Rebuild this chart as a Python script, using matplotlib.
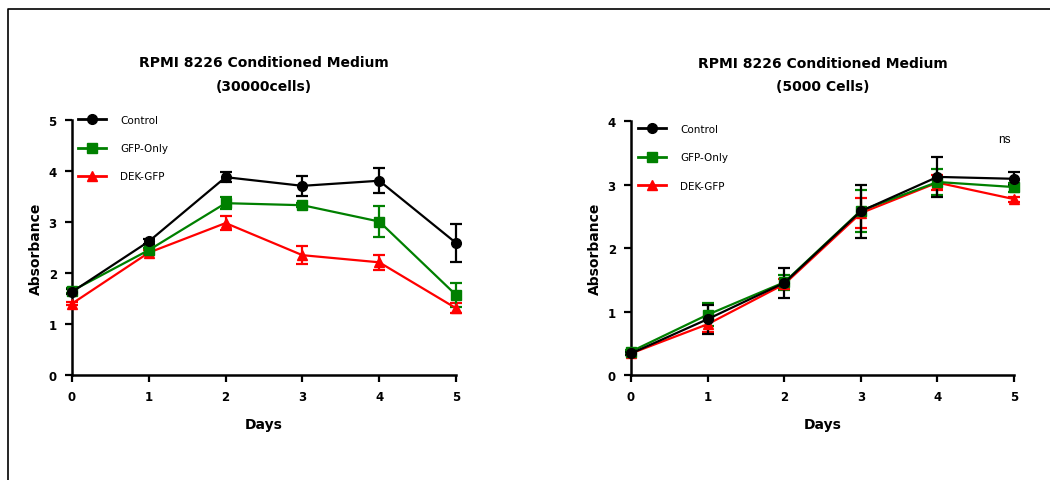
import numpy as np
import matplotlib
matplotlib.use("Agg")
import matplotlib.pyplot as plt
from matplotlib.lines import Line2D

days = [0, 1, 2, 3, 4, 5]
groups = ["Control", "GFP-Only", "DEK-GFP"]

# 30000 cells
ctrl_30k = [1.63, 2.62, 3.88, 3.71, 3.81, 2.59]
ctrl_30k_err = [0.05, 0.05, 0.10, 0.20, 0.25, 0.38]
gfp_30k = [1.65, 2.45, 3.37, 3.33, 3.01, 1.57]
gfp_30k_err = [0.05, 0.05, 0.12, 0.04, 0.30, 0.23]
dek_30k = [1.40, 2.40, 2.98, 2.35, 2.21, 1.31]
dek_30k_err = [0.03, 0.05, 0.14, 0.18, 0.15, 0.10]

# 5000 cells
ctrl_5k = [0.34, 0.88, 1.45, 2.58, 3.12, 3.09]
ctrl_5k_err = [0.03, 0.23, 0.23, 0.42, 0.31, 0.10]
gfp_5k = [0.37, 0.95, 1.46, 2.59, 3.04, 2.96]
gfp_5k_err = [0.03, 0.18, 0.12, 0.33, 0.20, 0.07]
dek_5k = [0.34, 0.80, 1.43, 2.55, 3.03, 2.77]
dek_5k_err = [0.03, 0.12, 0.08, 0.23, 0.12, 0.04]

colors = ["black", "#008000", "#ff0000"]
markers = ["o", "s", "^"]

plt.rcParams["font.family"] = ["DejaVu Sans"]


def draw_panel(ax, series, errs, title, ymax, legend_xy):
    # control drawn last so it sits on top
    for i in reversed(range(len(groups))):
        ax.errorbar(days, series[i], yerr=errs[i], color=colors[i], marker=markers[i],
                    markersize=7, linewidth=1.6, elinewidth=1.6, capsize=4.5,
                    capthick=1.6, clip_on=False, zorder=3)
    ax.set_xlim(0, 5)
    ax.set_ylim(0, ymax)
    ax.set_xticks(days)
    ax.set_yticks(range(ymax + 1))
    for side in ["top", "right"]:
        ax.spines[side].set_visible(False)
    for side in ["left", "bottom"]:
        ax.spines[side].set_linewidth(1.8)
    ax.tick_params(width=1.6, length=5, labelsize=8.5, pad=6)
    for t in ax.get_xticklabels() + ax.get_yticklabels():
        t.set_fontweight("bold")
    ax.set_xlabel("Days", fontsize=10, fontweight="bold", labelpad=10)
    ax.set_ylabel("Absorbance", fontsize=10, fontweight="bold", labelpad=4)
    ax.set_title(title, fontsize=10, fontweight="bold", linespacing=1.9, pad=22)
    handles = [Line2D([], [], color=c, marker=m, markersize=7, linewidth=2)
               for c, m in zip(colors, markers)]
    ax.legend(handles, groups, loc="upper left", bbox_to_anchor=legend_xy, frameon=False,
              fontsize=7.5, handlelength=2.7, labelspacing=1.75, handletextpad=1.35,
              borderaxespad=0, borderpad=0)


fig = plt.figure(figsize=(10.5, 4.81), dpi=100)
ax1 = fig.add_axes([0.0686, 0.2183, 0.3657, 0.530])
ax2 = fig.add_axes([0.601, 0.2183, 0.3648, 0.528])

draw_panel(ax1, [ctrl_30k, gfp_30k, dek_30k], [ctrl_30k_err, gfp_30k_err, dek_30k_err],
           "RPMI 8226 Conditioned Medium\n(30000cells)", 5, (0.016, 1.02))
draw_panel(ax2, [ctrl_5k, gfp_5k, dek_5k], [ctrl_5k_err, gfp_5k_err, dek_5k_err],
           "RPMI 8226 Conditioned Medium\n(5000 Cells)", 4, (0.018, 0.988))

ax2.text(4.87, 3.72, "ns", fontsize=8.5, family="Liberation Sans", ha="center", va="center")

# outer frame (top and left edges)
fig.add_artist(Line2D([0.008, 0.008, 1.0], [0.0, 0.979, 0.979], color="black", linewidth=1.2,
                      transform=fig.transFigure))

fig.savefig("out.png", dpi=100)
